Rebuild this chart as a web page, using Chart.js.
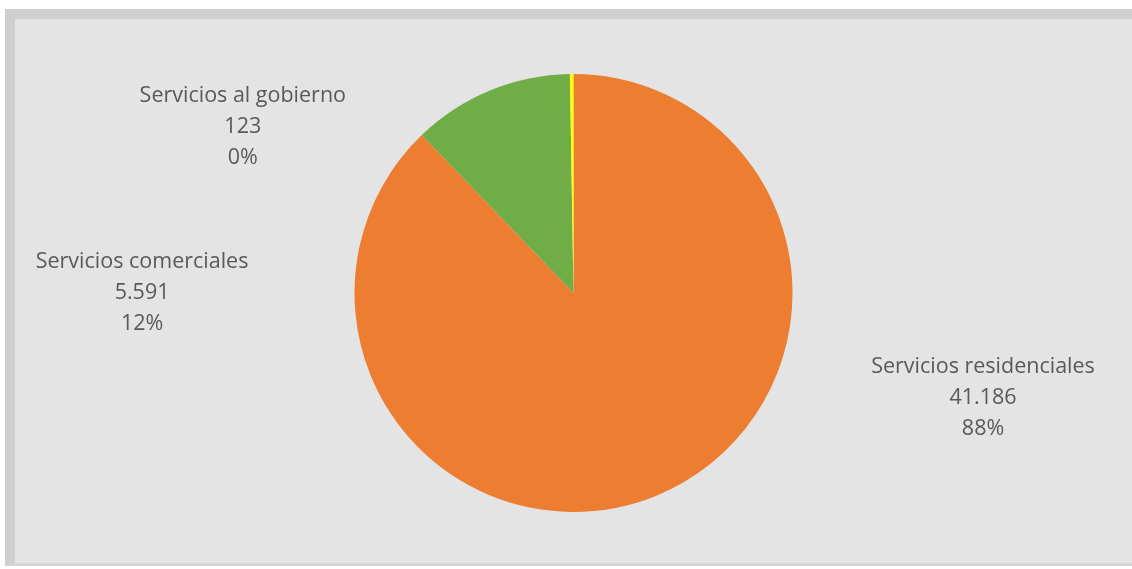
<!DOCTYPE html>
<html>
<head>
<meta charset="utf-8">
<script src="https://cdn.jsdelivr.net/npm/chart.js@4/dist/chart.umd.min.js"></script>
<style>
  html, body { margin: 0; padding: 0; background: #fff; width: 1132px; height: 569px; overflow: hidden; }
  #frame {
    position: absolute; left: 5px; top: 9px; width: 1127px; height: 557px;
    background: #e4e4e4; border-top: 10px solid #cfcfcf; border-left: 10px solid #cfcfcf;
    border-bottom: 3px solid #d6d6d6; box-sizing: border-box;
  }
  #wrap { position: absolute; left: 15px; top: 19px; width: 1117px; height: 544px; }
</style>
</head>
<body>
<div id="frame"></div>
<div id="wrap"><canvas id="myChart"></canvas></div>
<script>
  const labels = ['Servicios residenciales', 'Servicios comerciales', 'Servicios al gobierno'];
  const values = [41186, 5591, 123];
  const colors = ['#ed7d31', '#70ad47', '#ffff00'];
  // label block position, in units of the pie radius from the centre
  const labelOffsets = [[1.87, 0.48], [-1.97, 0.0], [-1.51, -0.76]];

  const fmt = (v) => String(v).replace(/\B(?=(\d{3})+(?!\d))/g, '.');

  const pieLabels = {
    id: 'pieLabels',
    afterDatasetsDraw(chart) {
      const ctx = chart.ctx;
      const meta = chart.getDatasetMeta(0);
      const total = values.reduce((a, b) => a + b, 0);
      ctx.save();
      ctx.font = '21.5px "Open Sans", Lato, sans-serif';
      ctx.fillStyle = '#595959';
      ctx.textAlign = 'center';
      ctx.textBaseline = 'middle';
      meta.data.forEach((arc, i) => {
        const r = arc.outerRadius;
        const x = arc.x + labelOffsets[i][0] * r;
        const y = arc.y + labelOffsets[i][1] * r;
        const lines = [labels[i], fmt(values[i]), Math.round(values[i] / total * 100) + '%'];
        lines.forEach((t, k) => ctx.fillText(t, x, y + (k - 1) * 31));
      });
      ctx.restore();
    }
  };

  const data = {
    labels: labels,
    datasets: [{
      data: values,
      backgroundColor: colors,
      borderWidth: 0,
    }]
  };

  const config = {
    type: 'pie',
    data: data,
    options: {
      responsive: true,
      maintainAspectRatio: false,
      animation: false,
      layout: { padding: { top: 55, bottom: 51 } },
      plugins: {
        legend: { display: false },
        tooltip: { enabled: false }
      }
    },
    plugins: [pieLabels]
  };

  const myChart = new Chart(document.getElementById('myChart'), config);
</script>
</body>
</html>
